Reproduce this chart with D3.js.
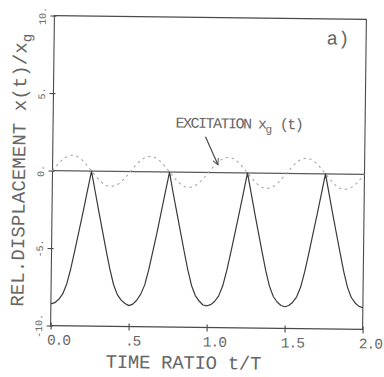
<!DOCTYPE html>
<html>
<head>
<meta charset="utf-8">
<script src="https://cdn.jsdelivr.net/npm/d3@7"></script>
<style>
  body { margin: 0; background: #fff; }
  svg { display: block; }
</style>
</head>
<body>
<svg id="chart" width="384" height="377"></svg>
<script>
// Sampling interval of the two curves, in units of t/T (0 .. 2.0)
const timeStep = 0.025;

// Relative displacement x(t)/xg, one value per time step
const responseValues = [
  -8.6, -8.52, -8.3, -7.95, -7.3, -6.3, -5.1, -3.85, -2.6, -1.3, 0,
  -1.3, -2.6, -3.85, -5.1, -6.3, -7.3, -7.95, -8.3, -8.52, -8.65,
  -8.55, -8.3, -7.9, -7.3, -6.3, -5.1, -3.9, -2.6, -1.3, 0,
  -1.35, -2.6, -3.85, -5.1, -6.3, -7.3, -7.95, -8.3, -8.55, -8.6,
  -8.52, -8.3, -7.95, -7.3, -6.3, -5.1, -3.85, -2.6, -1.3, 0,
  -1.3, -2.6, -3.85, -5.1, -6.3, -7.3, -7.95, -8.3, -8.52, -8.6,
  -8.52, -8.3, -7.95, -7.3, -6.3, -5.1, -3.85, -2.6, -1.3, 0,
  -1.3, -2.6, -3.85, -5.1, -6.3, -7.3, -7.95, -8.3, -8.52, -8.6
];

// Ground excitation xg(t), same time steps
const excitationValues = [
  0, 0.32, 0.6, 0.82, 0.96, 1.02, 0.96, 0.82, 0.6, 0.32, 0,
  -0.3, -0.58, -0.8, -0.94, -0.98, -0.94, -0.8, -0.58, -0.3, 0,
  0.31, 0.59, 0.81, 0.95, 1.0, 0.95, 0.81, 0.59, 0.31, 0,
  -0.3, -0.58, -0.8, -0.94, -0.98, -0.94, -0.8, -0.58, -0.3, 0,
  0.31, 0.59, 0.81, 0.95, 1.0, 0.95, 0.81, 0.59, 0.31, 0,
  -0.3, -0.58, -0.8, -0.94, -0.98, -0.94, -0.8, -0.58, -0.3, 0,
  0.31, 0.59, 0.81, 0.95, 1.0, 0.95, 0.81, 0.59, 0.31, 0,
  -0.3, -0.58, -0.8, -0.94, -0.98, -0.94, -0.8, -0.58, -0.3, 0
];

const xTickValues = [0, 0.5, 1.0, 1.5, 2.0];
const xTickLabels = ["0.0", ".5", "1.0", "1.5", "2.0"];
const yTickValues = [-10, -5, 0, 5, 10];
const yTickLabels = ["-10.", "-5.", "0.", "5.", "10."];

// Arrow from the excitation label to its curve (data units)
const arrowFrom = { t: 0.978, v: 2.3 };
const arrowTo = { t: 1.06, v: 0.5 };

const FONT = "'Liberation Mono', 'DejaVu Sans Mono', monospace";
const INK = "#4a4a4a";
const TEXT = "#666";

const svg = d3.select("#chart");
const plot = { left: 52.5, right: 364.5, top: 17.5, bottom: 327.5 };

const x = d3.scaleLinear().domain([0, 2]).range([plot.left, plot.right]);
const y = d3.scaleLinear().domain([-10, 10]).range([plot.bottom, plot.top]);

const cx = (plot.left + plot.right) / 2;
const cy = (plot.top + plot.bottom) / 2;
const g = svg.append("g").attr("transform", `rotate(0.7 ${cx} ${cy})`);

// Frame
g.append("rect")
  .attr("x", plot.left).attr("y", plot.top)
  .attr("width", plot.right - plot.left).attr("height", plot.bottom - plot.top)
  .attr("fill", "none").attr("stroke", INK).attr("stroke-width", 1.1);

// Bottom axis
const xAxis = g.append("g")
  .attr("transform", `translate(0,${plot.bottom})`)
  .call(d3.axisBottom(x).tickValues(xTickValues)
    .tickFormat((d, i) => xTickLabels[i]).tickSize(4).tickSizeOuter(0));
xAxis.select(".domain").remove();
xAxis.selectAll(".tick line").attr("y1", -3).attr("y2", 4).attr("stroke", INK).attr("stroke-width", 1.1);
xAxis.selectAll(".tick text")
  .attr("font-family", FONT).attr("font-size", 14.5).attr("letter-spacing", -1)
  .attr("fill", TEXT).attr("text-anchor", "start")
  .attr("x", -4).attr("y", 19).attr("dy", 0);

// Left axis
const yAxis = g.append("g")
  .attr("transform", `translate(${plot.left},0)`)
  .call(d3.axisLeft(y).tickValues(yTickValues)
    .tickFormat(d => yTickLabels[yTickValues.indexOf(d)]).tickSize(4).tickSizeOuter(0));
yAxis.select(".domain").remove();
yAxis.selectAll(".tick line").attr("x1", -4).attr("x2", 2).attr("stroke", INK).attr("stroke-width", 1.1);
yAxis.selectAll(".tick text")
  .attr("font-family", FONT).attr("font-size", 10).attr("fill", TEXT)
  .attr("transform", "rotate(-90)").attr("text-anchor", "middle")
  .attr("x", 0).attr("y", -8.5).attr("dy", 0);

// Zero reference line
g.append("line")
  .attr("x1", x(0)).attr("x2", x(2)).attr("y1", y(0)).attr("y2", y(0))
  .attr("stroke", "#5a5a5a").attr("stroke-width", 1.1);

const line = d3.line()
  .x((d, i) => x(i * timeStep))
  .y(d => y(d));

// Excitation (dotted)
g.append("path")
  .datum(excitationValues)
  .attr("d", line)
  .attr("fill", "none").attr("stroke", "#a8a8a8").attr("stroke-width", 1.1)
  .attr("stroke-dasharray", "2.5,3.5");

// Relative displacement
g.append("path")
  .datum(responseValues)
  .attr("d", line)
  .attr("fill", "none").attr("stroke", "#3a3a3a").attr("stroke-width", 1.2)
  .attr("stroke-linejoin", "round");

// Arrow to the excitation curve
svg.append("defs").append("marker")
  .attr("id", "arrowhead").attr("viewBox", "0 0 8 8")
  .attr("refX", 7).attr("refY", 4).attr("markerWidth", 7).attr("markerHeight", 7)
  .attr("markerUnits", "userSpaceOnUse").attr("orient", "auto")
  .append("path").attr("d", "M0,0.5 L7,4 L0,7.5")
  .attr("fill", "none").attr("stroke", INK).attr("stroke-width", 1.1);

g.append("line")
  .attr("x1", x(arrowFrom.t)).attr("y1", y(arrowFrom.v))
  .attr("x2", x(arrowTo.t)).attr("y2", y(arrowTo.v))
  .attr("stroke", INK).attr("stroke-width", 1.2)
  .attr("marker-end", "url(#arrowhead)");

// Excitation label
const exLabel = g.append("text")
  .attr("x", 175).attr("y", 128)
  .attr("font-family", FONT).attr("font-size", 15).attr("letter-spacing", -1.5)
  .attr("fill", TEXT);
exLabel.append("tspan").text("EXCITATION x");
exLabel.append("tspan").attr("font-size", 11).attr("dy", 4).attr("letter-spacing", 0).text("g");
exLabel.append("tspan").attr("dy", -4).text(" (t)");

// Panel tag
g.append("text")
  .attr("x", 325).attr("y", 43)
  .attr("font-family", FONT).attr("font-size", 19).attr("fill", TEXT)
  .text("a)");

// Axis titles
g.append("text")
  .attr("x", 108).attr("y", 369)
  .attr("font-family", FONT).attr("font-size", 19).attr("letter-spacing", -0.3)
  .attr("fill", TEXT)
  .text("TIME RATIO t/T");

const yTitle = g.append("text")
  .attr("transform", `translate(25,${cy}) rotate(-90)`)
  .attr("text-anchor", "middle")
  .attr("font-family", FONT).attr("font-size", 19).attr("letter-spacing", 0.1)
  .attr("fill", TEXT);
yTitle.append("tspan").text("REL.DISPLACEMENT x(t)/x");
yTitle.append("tspan").attr("font-size", 14).attr("dy", 5).text("g");
</script>
</body>
</html>
